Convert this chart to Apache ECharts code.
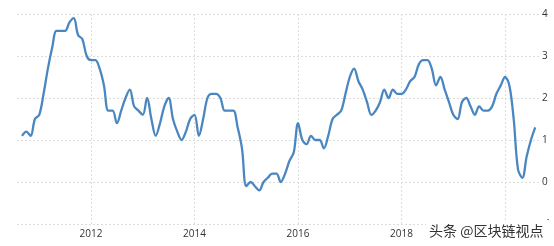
<!DOCTYPE html>
<html>
<head>
<meta charset="utf-8">
<script src="https://cdn.jsdelivr.net/npm/echarts@6/dist/echarts.min.js"></script>
<style>
html,body{margin:0;padding:0;background:#fff;}
#chart{width:554px;height:246px;}
</style>
</head>
<body>
<div id="chart"></div>
<script>
// Monthly series, Sep 2010 .. Aug 2020
var startYear = 2010;
var startMonth = 9; // September
var values = [
  1.1, 1.2, 1.1, 1.5,                                              // 2010 Sep-Dec
  1.6, 2.1, 2.7, 3.2, 3.6, 3.6, 3.6, 3.8, 3.9, 3.5, 3.4, 3.0,      // 2011
  2.9, 2.9, 2.7, 2.3, 1.7, 1.7, 1.4, 1.7, 2.0, 2.2, 1.8, 1.7,      // 2012
  1.6, 2.0, 1.5, 1.1, 1.4, 1.8, 2.0, 1.5, 1.2, 1.0, 1.2, 1.5,      // 2013
  1.6, 1.1, 1.5, 2.0, 2.1, 2.1, 2.0, 1.7, 1.7, 1.7, 1.3, 0.8,      // 2014
  -0.1, 0.0, -0.1, -0.2, 0.0, 0.1, 0.2, 0.2, 0.0, 0.2, 0.5, 0.7,   // 2015
  1.4, 1.0, 0.9, 1.1, 1.0, 1.0, 0.8, 1.1, 1.5, 1.6, 1.7, 2.1,      // 2016
  2.5, 2.7, 2.4, 2.2, 1.9, 1.6, 1.7, 1.9, 2.2, 2.0, 2.2, 2.1,      // 2017
  2.1, 2.2, 2.4, 2.5, 2.8, 2.9, 2.9, 2.7, 2.3, 2.5, 2.2, 1.9,      // 2018
  1.6, 1.5, 1.9, 2.0, 1.8, 1.6, 1.8, 1.7, 1.7, 1.8, 2.1, 2.3,      // 2019
  2.5, 2.3, 1.5, 0.3, 0.1, 0.6, 1.0, 1.3                           // 2020 Jan-Aug
];
var xTickYears = [2012, 2014, 2016, 2018, 2020];
var xLabelYears = [2012, 2014, 2016, 2018];
var yTicks = [-1, 0, 1, 2, 3, 4];
var watermark = '头条 @区块链视点';

// x expressed in months since Jan of startYear
function monthsOf(year, month) { return (year - startYear) * 12 + (month - 1); }
var seriesData = values.map(function (v, i) {
  return [monthsOf(startYear, startMonth) + i, v];
});
var tickMonths = xTickYears.map(function (y) { return monthsOf(y, 1); });
var labelMonths = xLabelYears.map(function (y) { return monthsOf(y, 1); });

var chart = echarts.init(document.getElementById('chart'), null, {renderer: 'canvas'});
var gridColor = '#dcdcdc';
chart.setOption({
  animation: false,
  backgroundColor: '#fff',
  grid: {left: 17, right: 14, top: 14, bottom: 22, containLabel: false},
  xAxis: {
    type: 'value',
    min: 6.84,
    max: 128.1,
    axisLine: {show: false},
    axisTick: {show: false, customValues: tickMonths},
    axisLabel: {
      customValues: labelMonths,
      formatter: function (v) { return String(startYear + Math.round(v / 12)); },
      color: '#333',
      fontSize: 10,
      fontFamily: 'Open Sans, sans-serif',
      margin: 5
    },
    splitLine: {show: true, lineStyle: {color: gridColor, type: [2, 2], width: 1}}
  },
  yAxis: {
    type: 'value',
    position: 'right',
    min: -1,
    max: 4,
    interval: 1,
    axisLine: {show: false},
    axisTick: {show: false},
    axisLabel: {color: '#333', fontSize: 10, fontFamily: 'Open Sans, sans-serif', margin: 2},
    splitLine: {show: true, lineStyle: {color: gridColor, type: [2, 2], width: 1}}
  },
  series: [{
    type: 'line',
    data: seriesData,
    showSymbol: false,
    smooth: 0.35,
    lineStyle: {color: '#4a87c0', width: 2.3},
    itemStyle: {color: '#4a87c0'}
  }],
  graphic: [{
    type: 'rect',
    left: 426, top: 220,
    shape: {width: 128, height: 26},
    style: {fill: '#fff'},
    z: 100
  }, {
    type: 'text',
    left: 429, top: 224,
    style: {
      text: watermark,
      fill: '#333',
      font: '14px "Noto Sans CJK SC", sans-serif'
    },
    z: 101
  }]
});
</script>
</body>
</html>
